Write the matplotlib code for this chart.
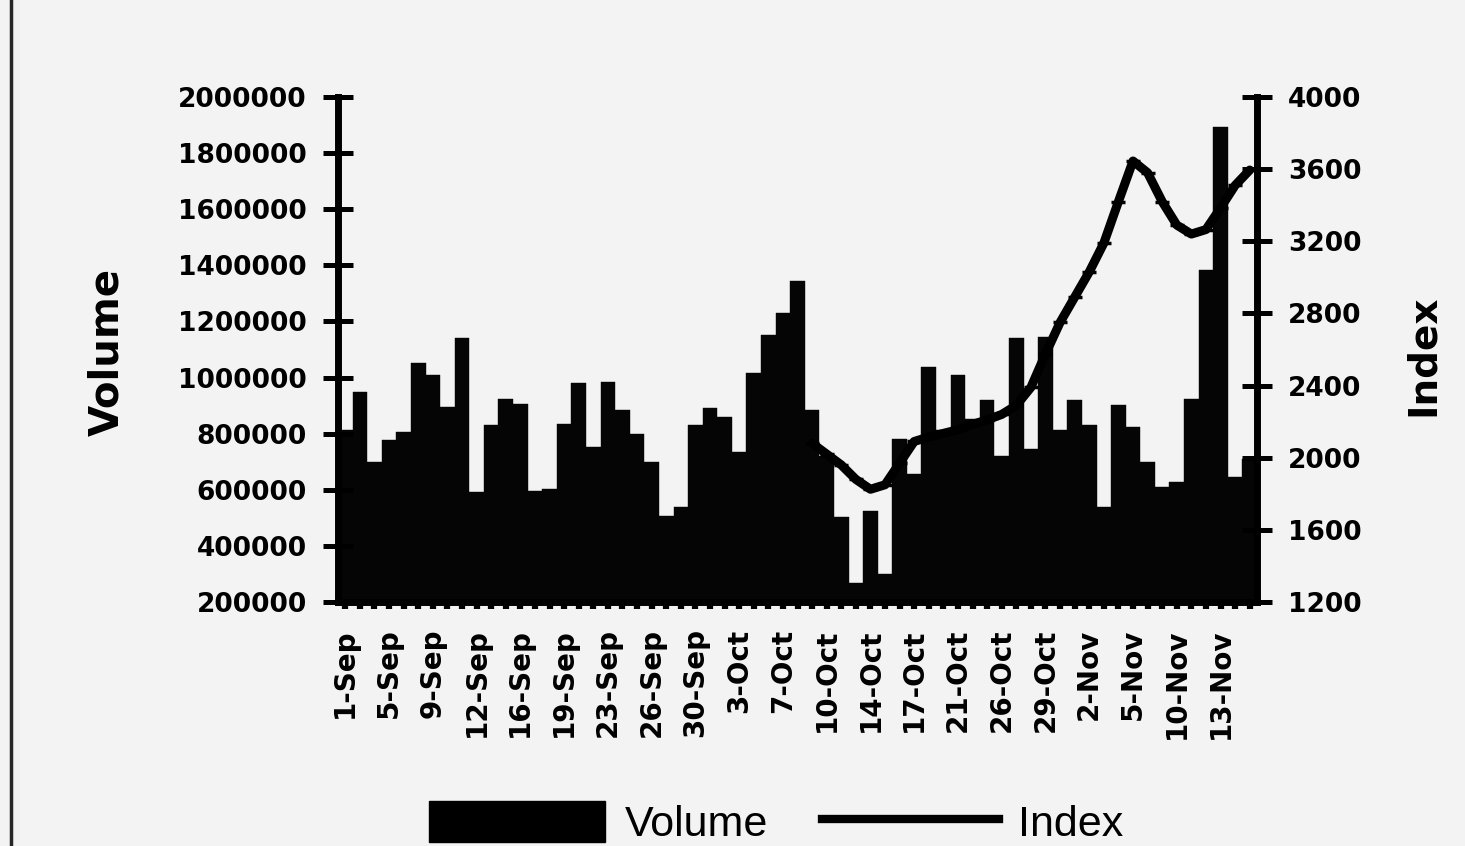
import matplotlib
matplotlib.use("Agg")
import matplotlib.pyplot as plt
from matplotlib.lines import Line2D
from matplotlib.patches import Patch
from matplotlib.ticker import FormatStrFormatter

# ---------------- data ----------------
volume = [812000, 949000, 698000, 776000, 806000, 1051000, 1009000, 896000, 1140000, 591000,
          830000, 925000, 907000, 597000, 603000, 836000, 979000, 752000, 985000, 884000,
          800000, 698000, 507000, 537000, 830000, 890000, 860000, 734000, 1015000, 1152000,
          1230000, 1343000, 884000, 722000, 502000, 268000, 525000, 299000, 782000, 657000,
          1039000, 812000, 1009000, 854000, 919000, 722000, 1140000, 746000, 1146000, 812000,
          919000, 830000, 537000, 901000, 824000, 698000, 609000, 627000, 925000, 1385000,
          1893000, 645000, 710000]

index_start = 32  # position of first index observation (10-Oct)
index_values = [2080, 2020, 1960, 1880, 1825, 1850, 1970, 2090, 2115, 2135,
                2155, 2185, 2210, 2240, 2290, 2390, 2575, 2750, 2890, 3030,
                3190, 3420, 3645, 3580, 3420, 3290, 3240, 3265, 3385, 3510, 3595]

tick_labels = ["1-Sep", "5-Sep", "9-Sep", "12-Sep", "16-Sep", "19-Sep", "23-Sep", "26-Sep",
               "30-Sep", "3-Oct", "7-Oct", "10-Oct", "14-Oct", "17-Oct", "21-Oct", "26-Oct",
               "29-Oct", "2-Nov", "5-Nov", "10-Nov", "13-Nov"]
label_step = 3

vol_ticks = list(range(200000, 2000001, 200000))
idx_ticks = list(range(1200, 4001, 400))

# ---------------- figure ----------------
W, H = 1465, 846
BG = "#f3f3f3"
plt.rcParams["font.family"] = ["DejaVu Sans"]
plt.rcParams["font.weight"] = "bold"

fig = plt.figure(figsize=(W / 100, H / 100), dpi=100, facecolor=BG)
L, R, T, B = 338, 1257, 97, 602
ax = fig.add_axes([L / W, 1 - B / H, (R - L) / W, (B - T) / H])
ax.set_facecolor(BG)

n = len(volume)
xs = list(range(n))
ax.bar(xs, volume, width=1.0, color="#050505", edgecolor="#050505", linewidth=0.3)
ax.set_xlim(-0.5, n - 0.5)
ax.set_ylim(vol_ticks[0], vol_ticks[-1])
ax.set_yticks(vol_ticks)
ax.yaxis.set_major_formatter(FormatStrFormatter("%d"))

ax.set_xticks(list(range(0, n, label_step))[:len(tick_labels)])
ax.set_xticklabels(tick_labels, rotation=90, fontsize=20, fontweight="bold")
ax.set_xticks(xs, minor=True)

for s in ("top", "right"):
    ax.spines[s].set_visible(False)
ax.spines["left"].set_linewidth(5)
ax.spines["bottom"].set_linewidth(5)

ax.tick_params(axis="y", direction="inout", length=21, width=3.6, pad=12,
               labelsize=19, color="black")
ax.tick_params(axis="x", which="both", direction="out", length=5, width=4.5, pad=14)
for lab in ax.get_yticklabels():
    lab.set_fontweight("bold")

ax2 = ax.twinx()
ax2.set_ylim(idx_ticks[0], idx_ticks[-1])
ax2.set_yticks(idx_ticks)
ax2.yaxis.set_major_formatter(FormatStrFormatter("%d"))
for s in ("top", "left", "bottom"):
    ax2.spines[s].set_visible(False)
ax2.spines["right"].set_linewidth(5)
ax2.tick_params(axis="y", direction="inout", length=21, width=3.6, pad=12, labelsize=19)
for lab in ax2.get_yticklabels():
    lab.set_fontweight("bold")

idx_x = list(range(index_start, index_start + len(index_values)))
ax2.plot(idx_x, index_values, color="black", lw=6.5, solid_capstyle="round",
         solid_joinstyle="round", marker="_", ms=10, mew=2.5)

# axis titles
fig.text(107 / W, 1 - 352 / H, "Volume", rotation=90, ha="center", va="center",
         fontsize=29, fontweight="bold")
fig.text(1423 / W, 1 - 355 / H, "Index", rotation=90, ha="center", va="center",
         fontsize=28, fontweight="bold")

# legend
handles = [Patch(facecolor="black", edgecolor="black"),
           Line2D([], [], color="black", lw=6)]
fig.legend(handles, ["Volume", "Index"], loc="center",
           bbox_to_anchor=(776 / W, 1 - 823 / H), ncol=2, frameon=False,
           prop={"family": "Liberation Sans", "size": 31, "weight": "normal"},
           handlelength=4.1, handleheight=1.1, handletextpad=0.45, columnspacing=1.25,
           borderpad=0.1)

# left frame border of the scanned chart
fig.add_artist(Line2D([11 / W, 11 / W], [0, 1], transform=fig.transFigure,
                      color="#262626", lw=2.5))

fig.savefig("out.png", dpi=100, facecolor=BG)
